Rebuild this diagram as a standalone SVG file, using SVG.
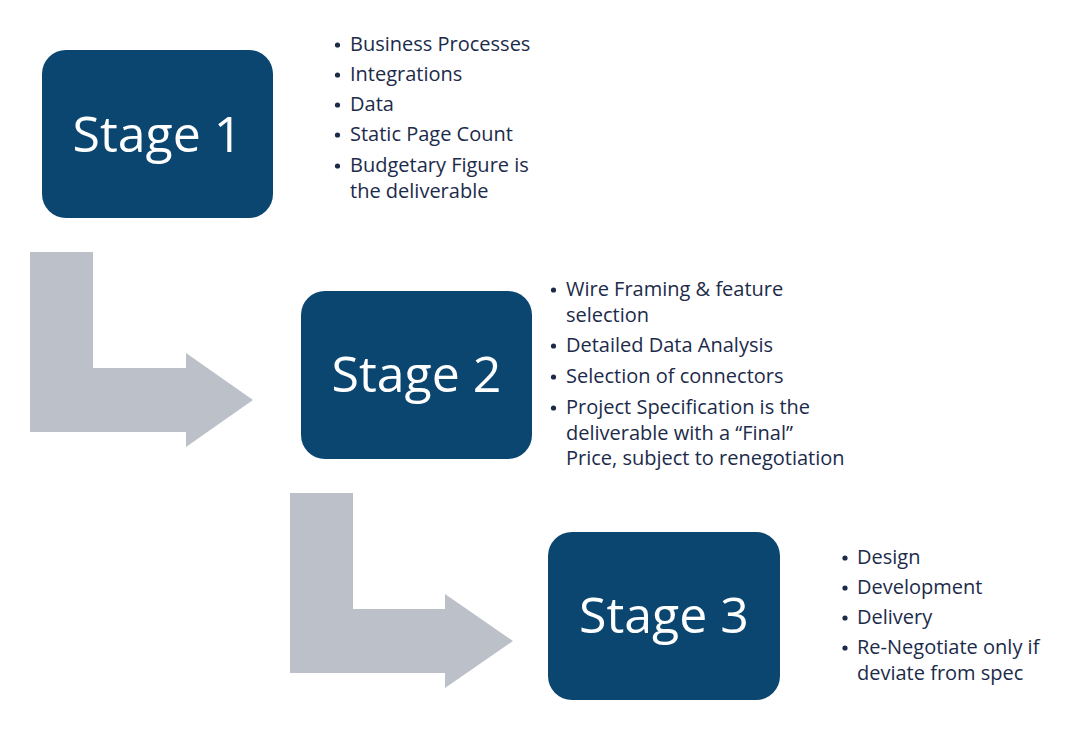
<svg xmlns="http://www.w3.org/2000/svg" width="1080" height="735" viewBox="0 0 1080 735">
<style>
.box{fill:#0a4670}
.stage{font-family:"Open Sans","Liberation Sans",sans-serif;font-size:50px;fill:#ffffff;text-anchor:middle}
.bul{font-family:"Open Sans","Liberation Sans",sans-serif;font-size:20px;fill:#1c2b4a}
.dot{fill:#1c2b4a}
.arrow{fill:#bcc0c8}
</style>
<rect width="1080" height="735" fill="#ffffff"/>
<g id="connectors">
<path class="arrow" d="M30 252 H93 V368 H186 V353 L253 400 L186 447 V432 H30 Z"/>
<path class="arrow" d="M290 493 H353 V609 H445 V594 L513 641 L445 688 V673 H290 Z"/>
</g>
<g id="stage1">
<rect class="box" x="42" y="50" width="231" height="168" rx="24"/>
<text class="stage" x="157.5" y="152">Stage 1</text>
</g>
<g id="stage2">
<rect class="box" x="301" y="291" width="231" height="168" rx="24"/>
<text class="stage" x="416.5" y="392">Stage 2</text>
</g>
<g id="stage3">
<rect class="box" x="548" y="532" width="232" height="168" rx="24"/>
<text class="stage" x="664" y="633">Stage 3</text>
</g>
<g id="list1" class="bul">
<circle class="dot" cx="337.5" cy="45" r="2.6"/>
<circle class="dot" cx="337.5" cy="75" r="2.6"/>
<circle class="dot" cx="337.5" cy="105" r="2.6"/>
<circle class="dot" cx="337.5" cy="135" r="2.6"/>
<circle class="dot" cx="337.5" cy="166" r="2.6"/>
<text x="350" y="51">Business Processes</text>
<text x="350" y="81">Integrations</text>
<text x="350" y="111">Data</text>
<text x="350" y="141">Static Page Count</text>
<text x="350" y="172">Budgetary Figure is</text>
<text x="350" y="198">the deliverable</text>
</g>
<g id="list2" class="bul">
<circle class="dot" cx="553.5" cy="290" r="2.6"/>
<circle class="dot" cx="553.5" cy="346" r="2.6"/>
<circle class="dot" cx="553.5" cy="377" r="2.6"/>
<circle class="dot" cx="553.5" cy="408" r="2.6"/>
<text x="566" y="296">Wire Framing &amp; feature</text>
<text x="566" y="322">selection</text>
<text x="566" y="352">Detailed Data Analysis</text>
<text x="566" y="383">Selection of connectors</text>
<text x="566" y="414">Project Specification is the</text>
<text x="566" y="440">deliverable with a “Final”</text>
<text x="566" y="465">Price, subject to renegotiation</text>
</g>
<g id="list3" class="bul">
<circle class="dot" cx="845" cy="558" r="2.6"/>
<circle class="dot" cx="845" cy="588" r="2.6"/>
<circle class="dot" cx="845" cy="618" r="2.6"/>
<circle class="dot" cx="845" cy="648" r="2.6"/>
<text x="857" y="564">Design</text>
<text x="857" y="594">Development</text>
<text x="857" y="624">Delivery</text>
<text x="857" y="654">Re-Negotiate only if</text>
<text x="857" y="680">deviate from spec</text>
</g>
</svg>
